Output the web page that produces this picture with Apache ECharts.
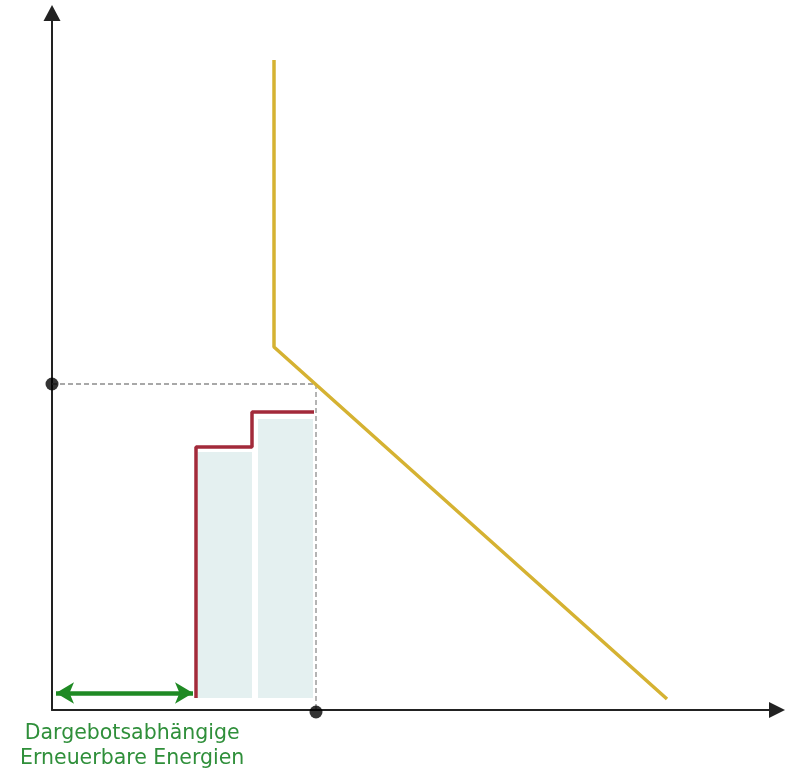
<!DOCTYPE html>
<html>
<head>
<meta charset="utf-8">
<title>Merit order</title>
<script src="https://cdn.jsdelivr.net/npm/echarts@6/dist/echarts.min.js"></script>
<style>
	html,body{margin:0;padding:0;background:#fff;}
	#abc{width:785px;height:770px;}
</style>
</head>
<body>
<div id="abc"></div>
<script>
// Werte in Achseneinheiten (x: Leistung, y: Preis)
var nachfrage = [[22.2, 65], [22.2, 36.3], [61.5, 1.1]];
var angebot = [[14.4, 1.2], [14.4, 26.3], [20, 26.3], [20, 29.8], [26.2, 29.8]];
var bloecke = [[14.6, 20, 25.8], [20.6, 26.1, 29.1]];
var gleichgewicht = [[0, 32.6], [26.4, 32.6], [26.4, 0]];
var punkte = [[0, 32.6], [26.4, -0.2]];
var ee = [[0.4, 1.7], [14.1, 1.7]];
var eeText = 'Dargebotsabhängige\nErneuerbare Energien';

window.onload = function(){
	setChart();
}

function setChart(){
	var myChart = echarts.init(document.getElementById('abc'));
	option = {
		animation : false,
		grid : {
			left : 52,
			top : 13,
			right : 8,
			bottom : 60
		},
		xAxis : {
			type : 'value',
			min : 0,
			max : 72.5,
			splitLine : {show : false},
			axisTick : {show : false},
			axisLabel : {show : false},
			axisLine : {
				onZero : false,
				symbol : ['none', 'triangle'],
				symbolSize : [16, 16],
				lineStyle : {color : '#222', width : 2}
			}
		},
		yAxis : {
			type : 'value',
			min : 0,
			max : 69.7,
			splitLine : {show : false},
			axisTick : {show : false},
			axisLabel : {show : false},
			axisLine : {
				show : true,
				onZero : false,
				symbol : ['none', 'triangle'],
				symbolSize : [17, 16],
				lineStyle : {color : '#222', width : 2}
			}
		},
		graphic : [{
			type : 'text',
			left : 128 - 108,
			top : 721,
			style : {
				text : eeText,
				fill : '#2f8f3a',
				fontSize : 20.5,
				fontFamily : 'DejaVu Sans',
				textAlign : 'center',
				lineHeight : 25,
				x : 108
			}
		}],
		series : [{
			type : 'custom',
			data : bloecke,
			z : 1,
			renderItem : function(params, api){
				var p0 = api.coord([api.value(0), api.value(2)]);
				var p1 = api.coord([api.value(1), 1.2]);
				return {
					type : 'rect',
					shape : {x : p0[0], y : p0[1], width : p1[0] - p0[0], height : p1[1] - p0[1]},
					style : {fill : '#e4f0f0'}
				};
			}
		}, {
			type : 'line',
			data : gleichgewicht,
			symbol : 'none',
			z : 2,
			lineStyle : {color : '#8c8c8c', width : 1.3, type : [5, 3]}
		}, {
			type : 'line',
			data : angebot,
			symbol : 'none',
			z : 3,
			lineStyle : {color : '#a22a3a', width : 3.5}
		}, {
			type : 'line',
			data : nachfrage,
			symbol : 'none',
			z : 3,
			lineStyle : {color : '#d5b232', width : 3.5}
		}, {
			type : 'line',
			data : [],
			symbol : 'none',
			markLine : {
				silent : true,
				symbol : ['arrow', 'arrow'],
				symbolSize : [16, 18],
				label : {show : false},
				lineStyle : {color : '#1f8a24', width : 4.5, type : 'solid'},
				data : [[{coord : ee[0]}, {coord : ee[1]}]]
			}
		}, {
			type : 'scatter',
			data : punkte,
			symbolSize : 13,
			clip : false,
			z : 5,
			itemStyle : {color : '#000'}
		}]
	};
	myChart.setOption(option);
}
</script>
</body>
</html>
